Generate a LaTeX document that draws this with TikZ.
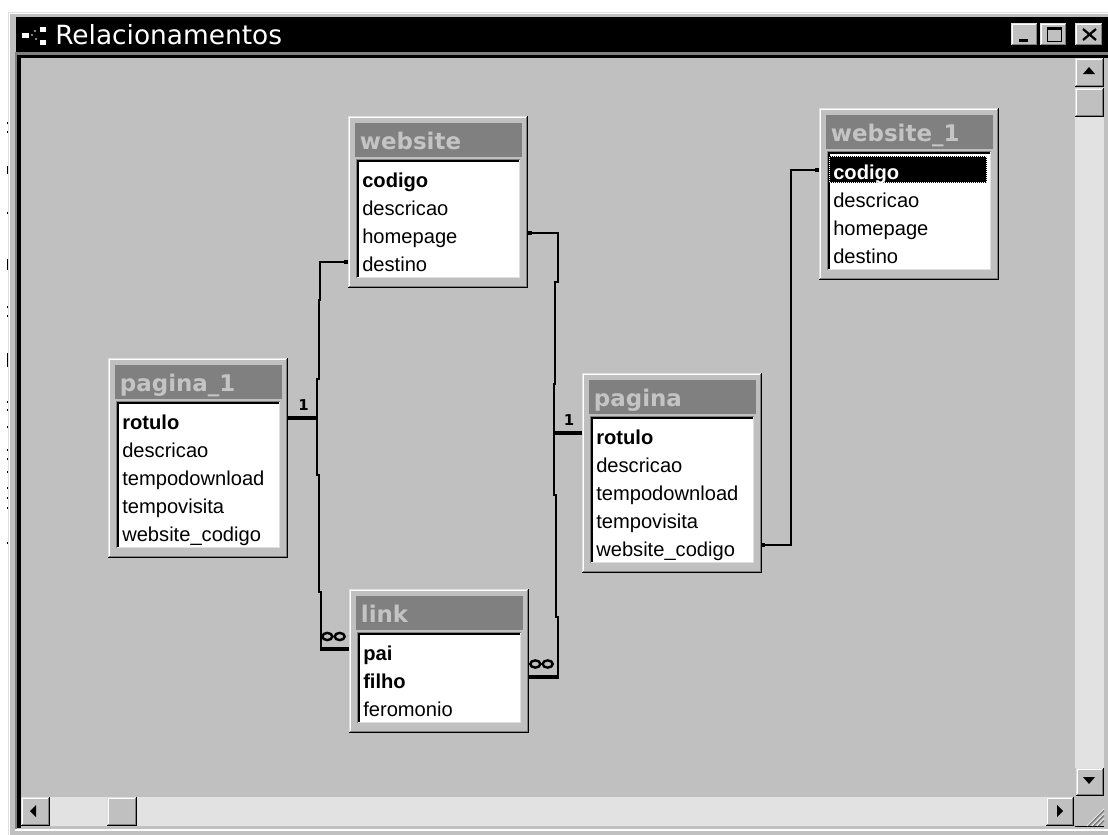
\documentclass[tikz,border=0pt]{standalone}
\usepackage{fontspec}
\setmainfont{Liberation Sans}
\newfontfamily\winfont{DejaVu Sans}
\usetikzlibrary{calc}

\definecolor{winface}{HTML}{C0C0C0}
\definecolor{winshadow}{HTML}{808080}
\definecolor{winlight}{HTML}{DFDFDF}
\definecolor{wintrack}{HTML}{E2E2E2}
\definecolor{captiontext}{HTML}{C4C4C4}

\tikzset{
  hair/.style={line width=0.75pt},
  tblbody/.style={anchor=north west, fill=winface, inner sep=0pt, outer sep=0pt, minimum width=135pt},
  tbltitle/.style={anchor=north west, fill=winshadow, text=captiontext, inner xsep=3.5pt, inner ysep=0pt,
    text width=118.25pt, minimum height=25.5pt, text height=15pt, text depth=1.5pt, align=left,
    font=\winfont\bfseries\fontsize{17.2pt}{19pt}\selectfont},
  fld/.style={anchor=west, inner sep=0pt, text height=12pt, text depth=1.5pt,
    font=\fontsize{15.1pt}{17pt}\selectfont},
  fldkey/.style={fld, font=\fontsize{15.1pt}{17pt}\selectfont\bfseries},
  fldsel/.style={fldkey, text=white},
  rel/.style={line width=1.6pt},
  relbar/.style={line width=3.4pt},
  enddot/.style={rectangle, fill=black, minimum size=3.2pt, inner sep=0pt},
  card/.style={inner sep=0pt, font=\winfont\bfseries\fontsize{11.2pt}{13pt}\selectfont},
  manymark/.pic={\draw[line width=1.8pt] (-6.2,0) ellipse [x radius=5, y radius=3.6]
                                         (6.2,0) ellipse [x radius=5, y radius=3.6];},
}

% raised 3D frame of a button
\newcommand\winbtn[4]{%
  \fill[winface] (#1,#2) rectangle (#3,#4);
  \draw[hair,winlight] (#1+0.5,#4-1) |- (#3-1,#2+0.5);
  \draw[hair,white] (#1+1.5,#4-2) |- (#3-2,#2+1.5);
  \draw[hair,black] (#1,#4-0.5) -| (#3-0.5,#2);
  \draw[hair,winshadow] (#1+1,#4-1.5) -| (#3-1.5,#2+1);
}

% table window: name, left, top, number of fields, caption
\newcommand\erdtable[5]{%
  \pgfmathsetmacro\tblH{60+28*#4}
  \pgfmathsetmacro\tblHpt{\tblH*0.75}
  \node[tblbody, minimum height=\tblHpt pt] (#1) at (#2,#3) {};
  \draw[hair,winlight] (#2+0.5,#3+\tblH-1) |- (#2+179,#3+0.5);
  \draw[hair,white] (#2+1.5,#3+\tblH-2) |- (#2+178,#3+1.5);
  \draw[hair,black] (#2,#3+\tblH-0.5) -| (#2+179.5,#3);
  \draw[hair,winshadow] (#2+1,#3+\tblH-1.5) -| (#2+178.5,#3+1);
  \node[tbltitle] (#1-title) at (#2+7,#3+7) {#5};
  \fill[white] (#2+9,#3+44) rectangle (#2+172,#3+\tblH-10);
  \draw[hair,winshadow] (#2+8.5,#3+\tblH-10) |- (#2+172,#3+43.5);
  \draw[line width=1.5pt] (#2+10,#3+\tblH-10) |- (#2+171,#3+45);
  \draw[hair,winlight] (#2+171.5,#3+45) |- (#2+9,#3+\tblH-10.5);
}

% field of a table: [style], table, row index, key, text
\newcommand\erdfield[5][fld]{%
  \node[#1] (#2-#4) at ($(#2.north west)+(14,64+28*#3)$) {#5};
}

\begin{document}
\begin{tikzpicture}[x=0.75pt,y=-0.75pt]
\useasboundingbox (0,0) rectangle (1108,835);
\fill[white] (0,0) rectangle (1108,835);

% stray marks along the left edge
\foreach \ya/\yb in {122/124,131/133,166/174,212/214,259/270,306/308,315/317,353/367,
                     401/403,409/411,426/428,449/451,458/460,471/473,487/489,497/499,
                     507/509,542/544}
  \fill[black] (6.5,\ya) rectangle (8.5,\yb);

% window frame
\fill[winface] (8,12) rectangle (1108,835);
\draw[hair,winlight] (8.5,835) |- (1108,12.5);
\draw[hair,white] (9.5,835) |- (1108,13.5);

% caption bar
\fill[black] (16,17) rectangle (1108,52);
\fill[white] (22,33) rectangle (29,38);
\fill[white] (40,27) rectangle (46,32);
\fill[white] (40,40) rectangle (46,45);
\fill[winshadow] (31,34) rectangle (33,36);
\fill[winshadow] (34,30) rectangle (36,32);
\fill[winshadow] (35,38) rectangle (37,40);
\node[anchor=base west, inner sep=0pt, text=white,
      font=\winfont\fontsize{19.8pt}{22pt}\selectfont] (caption) at (55,45) {Relacionamentos};

% caption buttons
\winbtn{1011}{23}{1038}{46}
\fill[black] (1019,39) rectangle (1028,42);
\winbtn{1040}{23}{1067}{46}
\draw[hair] (1047.5,28.5) rectangle (1061.5,41.5);
\fill[black] (1047,27) rectangle (1062,30);
\winbtn{1075}{23}{1103}{46}
\draw[line width=1.7pt] (1083,29) -- (1096,40) (1096,29) -- (1083,40);

% sunken client edge
\fill[winshadow] (15,52) rectangle (1108,55);
\fill[winshadow] (15,52) rectangle (17,829);
\fill[black] (17,55) rectangle (1108,58);
\fill[black] (17,55) rectangle (20.5,828);
\fill[white] (15,829) rectangle (1108,831);

% vertical scroll bar
\fill[wintrack] (1075,117) rectangle (1104,768);
\winbtn{1075}{58}{1104}{87}
\fill[black] (1089,67) -- (1095,74) -- (1083,74) -- cycle;
\winbtn{1075}{88}{1104}{117}
\winbtn{1076}{768}{1104}{796}
\fill[black] (1083,777) -- (1095,777) -- (1089,784) -- cycle;

% horizontal scroll bar
\fill[wintrack] (50,797) rectangle (1046,826);
\winbtn{21}{797}{50}{826}
\fill[black] (30,811) -- (36,805) -- (36,817) -- cycle;
\winbtn{107}{797}{137}{826}
\winbtn{1046}{797}{1074}{826}
\fill[black] (1063,811) -- (1057,805) -- (1057,817) -- cycle;

% size grip
\fill[winface] (1075,797) rectangle (1104,826);
\draw[hair,black] (1075,826.5) -- (1104,826.5);
\foreach \d in {0,5,10} {
  \draw[hair,white] (1087+\d,826) -- (1104,809+\d);
  \draw[hair,winshadow] (1088+\d,826) -- (1104,810+\d);
  \draw[hair,winshadow] (1089+\d,826) -- (1104,811+\d);
}

% tables
\erdtable{website}{348}{116}{4}{website}
\erdfield[fldkey]{website}{0}{codigo}{codigo}
\erdfield{website}{1}{descricao}{descricao}
\erdfield{website}{2}{homepage}{homepage}
\erdfield{website}{3}{destino}{destino}

\erdtable{website1}{819}{108}{4}{website\_1}
\fill[black] (829,156) rectangle (987,183);
\draw[hair,white,dash pattern=on 0.75pt off 0.75pt] (829.5,156.5) rectangle (986.5,182.5);
\erdfield[fldsel]{website1}{0}{codigo}{codigo}
\erdfield{website1}{1}{descricao}{descricao}
\erdfield{website1}{2}{homepage}{homepage}
\erdfield{website1}{3}{destino}{destino}

\erdtable{pagina1}{108}{358}{5}{pagina\_1}
\erdfield[fldkey]{pagina1}{0}{rotulo}{rotulo}
\erdfield{pagina1}{1}{descricao}{descricao}
\erdfield{pagina1}{2}{tempodownload}{tempodownload}
\erdfield{pagina1}{3}{tempovisita}{tempovisita}
\erdfield{pagina1}{4}{webcodigo}{website\_codigo}

\erdtable{pagina}{582}{373}{5}{pagina}
\erdfield[fldkey]{pagina}{0}{rotulo}{rotulo}
\erdfield{pagina}{1}{descricao}{descricao}
\erdfield{pagina}{2}{tempodownload}{tempodownload}
\erdfield{pagina}{3}{tempovisita}{tempovisita}
\erdfield{pagina}{4}{webcodigo}{website\_codigo}

\erdtable{link}{349}{589}{3}{link}
\erdfield[fldkey]{link}{0}{pai}{pai}
\erdfield[fldkey]{link}{1}{filho}{filho}
\erdfield{link}{2}{feromonio}{feromonio}

% relationship: website / pagina_1 / link.pai
\coordinate (wsL) at ($(website.west|-website-destino)+(-2,-2)$);
\coordinate (p1R) at ($(pagina1.east|-pagina1-rotulo)+(0,-4)$);
\coordinate (lkL) at ($(link.west|-link-pai)+(0,-4)$);
\draw[rel] (wsL) -- ++(-26,0) -- ++(0,38) -- ++(-1,0) -- ++(0,79) -- ++(-2,0) coordinate (midL)
  -- ++(0,96) -- ++(2,0) -- ++(0,117) -- ++(2,0) coordinate (lowL) -- (lowL|-lkL);
\draw[relbar] (p1R) -- (p1R-|midL);
\draw[relbar] ($(lowL|-lkL)+(-1,0)$) -- (lkL);
\node[card] (oneL) at ($(p1R)!0.5!(p1R-|midL)+(1,-13)$) {1};
\pic (manyL) at ($(lowL|-lkL)!0.5!(lkL)+(-1.5,-12.5)$) {manymark};
\node[enddot] (dotWsL) at (wsL) {};

% relationship: website / pagina / link.filho
\coordinate (wsR) at ($(website.east|-website-homepage)+(2,-3)$);
\coordinate (pgL) at ($(pagina.west|-pagina-rotulo)+(0,-4)$);
\coordinate (lkR) at ($(link.east|-link-filho)+(0,-4)$);
\draw[rel] (wsR) -- ++(28,0) -- ++(0,49) -- ++(-3,0) -- ++(0,102) -- ++(-1,0) coordinate (midR)
  -- ++(0,111) -- ++(2,0) -- ++(0,122) -- ++(2,0) coordinate (lowR) -- (lowR|-lkR);
\draw[relbar] (midR|-pgL) -- (pgL);
\draw[relbar] (lkR) -- ($(lowR|-lkR)+(1,0)$);
\node[card] (oneR) at ($(pgL)!0.5!(midR|-pgL)+(1,-13)$) {1};
\pic (manyR) at ($(lkR)!0.5!(lowR|-lkR)+(-2,-13)$) {manymark};
\node[enddot] (dotWsR) at (wsR) {};

% relationship: pagina.website_codigo / website_1.codigo
\coordinate (pgR) at ($(pagina.east|-pagina-webcodigo)+(1,-4)$);
\coordinate (w1L) at ($(website1.west|-website1-codigo)+(-2,-2)$);
\draw[rel] (pgR) -- ++(28,0) |- (w1L);
\node[enddot] (dotPgR) at (pgR) {};
\node[enddot] (dotW1L) at (w1L) {};
\end{tikzpicture}
\end{document}
